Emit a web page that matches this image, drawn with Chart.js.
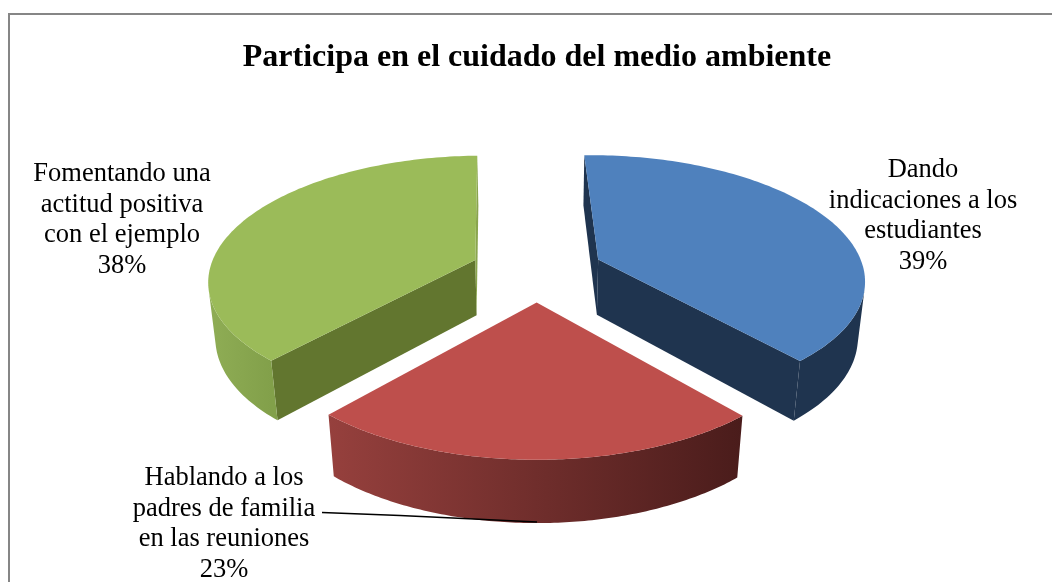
<!DOCTYPE html>
<html><head><meta charset="utf-8">
<style>html,body{margin:0;padding:0;background:#fff}canvas{display:block}</style>
<script src="https://cdn.jsdelivr.net/npm/chart.js@4/dist/chart.umd.min.js"></script>
</head><body>
<div style="width:1052px;height:582px"><canvas id="c" width="1052" height="582"></canvas></div>
<script>
const chartTitle = 'Participa en el cuidado del medio ambiente';
const categories = ['Dando indicaciones a los estudiantes','Hablando a los padres de familia en las reuniones','Fomentando una actitud positiva con el ejemplo'];
const values = [39,23,38];
const labelLines = [['Dando','indicaciones a los','estudiantes'],['Hablando a los','padres de familia','en las reuniones'],['Fomentando una','actitud positiva','con el ejemplo']];
const topColors = ['#4f81bd','#be4f4c','#9bbb59'];
const cutColors = ['#1f344f','#5a2422','#62762f'];
const rimStops = [['#1f344f','#1f344f'],['#96403d','#4a1c1b'],['#8fad55','#82a04a']];
const backCutColors = ['#1f344f','#5a2422','#8aa54e'];
const labelAnchors = [[923,170],[224,478],[122,174]];
const view = {cy:270.5, a:266, b:123, p:0.15, q:0.022, d:57};

const project = (cx,X,Y,z)=>{const w=1-view.p*Y+view.q*z;return [cx+view.a*X/w, view.cy+(view.b*Y+view.d*z)/w];};
const poly=(ctx,pts,fill)=>{ctx.beginPath();pts.forEach((p,i)=>i?ctx.lineTo(p[0],p[1]):ctx.moveTo(p[0],p[1]));ctx.closePath();ctx.fillStyle=fill;ctx.fill();};
const area=(pts)=>{let s=0;pts.forEach((p,i)=>{const q=pts[(i+1)%pts.length];s+=p[0]*q[1]-q[0]*p[1];});return s/2;};

const pie3d = {
  id:'pie3d',
  beforeDatasetsDraw(chart){
    const ctx=chart.ctx, arcs=chart.getDatasetMeta(0).data;
    const order=[2,0,1];
    ctx.save();
    order.forEach(i=>{
      const arc=arcs[i];
      const {x,startAngle,endAngle,outerRadius:R}=arc.getProps(['x','startAngle','endAngle','outerRadius'],true);
      const mid=(startAngle+endAngle)/2, e=arc.options.offset/R;
      const ax=Math.cos(mid)*e, ay=Math.sin(mid)*e;
      const N=120, rim=[];
      for(let k=0;k<=N;k++){const t=startAngle+(endAngle-startAngle)*k/N;rim.push([ax+Math.cos(t),ay+Math.sin(t)]);}
      const T=rim.map(u=>project(x,u[0],u[1],0)), B=rim.map(u=>project(x,u[0],u[1],1));
      const A0=project(x,ax,ay,0), A1=project(x,ax,ay,1);
      // cut faces, only when they face the viewer
      const f1=[A0,T[0],B[0],A1], f2=[T[N],A0,A1,B[N]];
      if(area(f1)<0) poly(ctx,f1,cutColors[i]);
      if(area(f2)<0) poly(ctx,f2,i===2?backCutColors[2]:cutColors[i]);
      // outer wall
      const vis=[];
      for(let k=0;k<N;k++){ if(area([T[k],T[k+1],B[k+1],B[k]])<0) vis.push(k); }
      if(vis.length){
        const a=vis[0], b=vis[vis.length-1]+1;
        const top=T.slice(a,b+1), bot=B.slice(a,b+1).reverse();
        const xs=top.map(p=>p[0]);
        const x0=Math.min(...xs), x1=Math.max(...xs);
        const g=ctx.createLinearGradient(x0,0,x1,0);
        g.addColorStop(0,rimStops[i][0]); g.addColorStop(1,rimStops[i][1]);
        poly(ctx,top.concat(bot),g);
      }
      // top face
      poly(ctx,[A0].concat(T),topColors[i]);
    });
    ctx.restore();
    return false;
  },
  afterDraw(chart){
    const ctx=chart.ctx;
    ctx.save();
    // chart frame
    ctx.strokeStyle='#868686'; ctx.lineWidth=2;
    ctx.beginPath(); ctx.moveTo(9,582); ctx.lineTo(9,14); ctx.lineTo(1052,14); ctx.stroke();
    // leader line
    ctx.strokeStyle='#000'; ctx.lineWidth=1.6;
    ctx.beginPath(); ctx.moveTo(322,512.5); ctx.lineTo(400,515.5); ctx.lineTo(537,522); ctx.stroke();
    // data labels
    ctx.fillStyle='#000'; ctx.font="26.5px 'Liberation Serif'"; ctx.textAlign='center'; ctx.textBaseline='middle';
    labelLines.forEach((lines,i)=>{
      lines.concat([values[i]+'%']).forEach((s,j)=>ctx.fillText(s,labelAnchors[i][0],labelAnchors[i][1]+j*30.6));
    });
    ctx.restore();
  }
};

new Chart(document.getElementById('c'),{
  type:'pie',
  data:{labels:categories,datasets:[{data:values,backgroundColor:topColors,borderWidth:0,offset:55}]},
  options:{
    responsive:false,animation:false,rotation:-1.5,
    layout:{padding:{left:22,top:21}},
    plugins:{
      legend:{display:false},tooltip:{enabled:false},
      title:{display:true,text:chartTitle,color:'#000',font:{family:"'Liberation Serif'",size:32,weight:'bold'},padding:{top:18,bottom:10}}
    }
  },
  plugins:[pie3d]
});
</script>
</body></html>
